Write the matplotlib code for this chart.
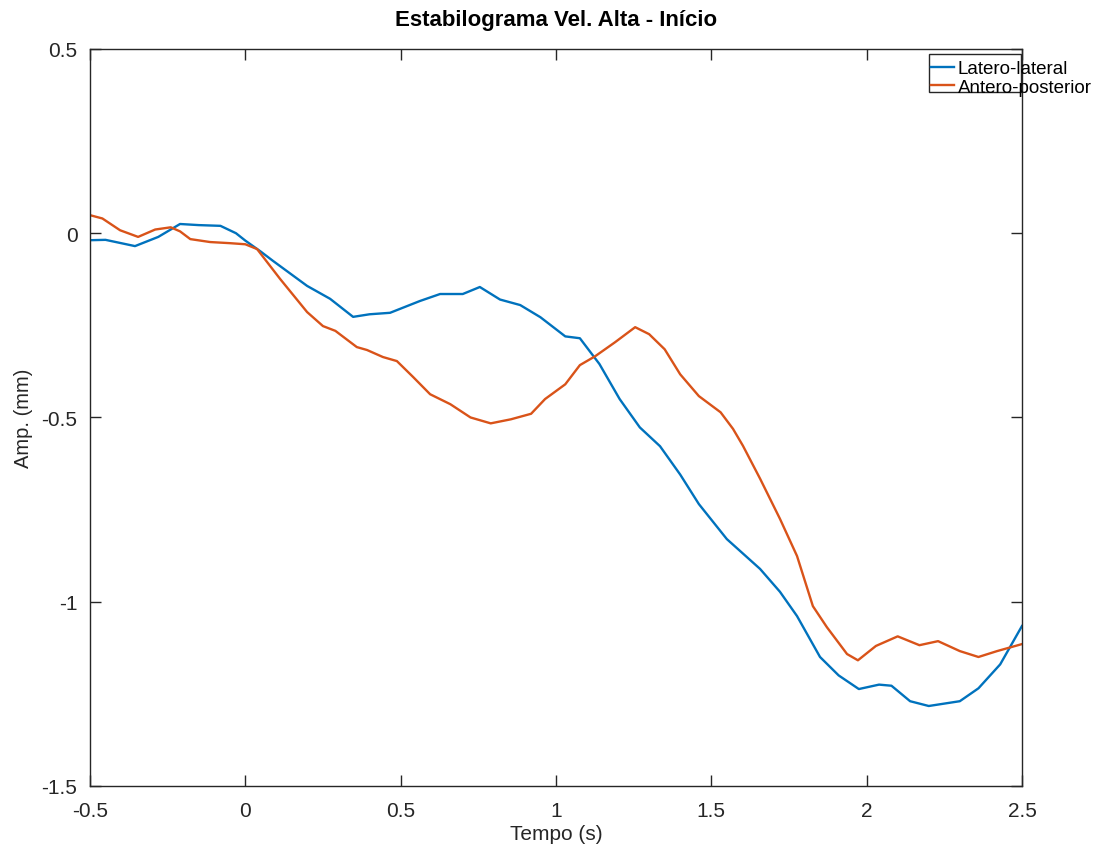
import matplotlib.pyplot as plt
from matplotlib.patches import Rectangle

plt.rcParams['font.family'] = ['Liberation Sans', 'DejaVu Sans']

# Latero-lateral (blue)
t_ll = [-0.5, -0.45, -0.355, -0.28, -0.21, -0.15, -0.08, -0.03, 0.0, 0.05, 0.089,
        0.199, 0.273, 0.347, 0.40, 0.466, 0.562, 0.627, 0.70, 0.755, 0.82, 0.885,
        0.95, 1.03, 1.077, 1.14, 1.205, 1.27, 1.335, 1.40, 1.46, 1.55, 1.657,
        1.721, 1.776, 1.85, 1.91, 1.975, 2.04, 2.08, 2.14, 2.2, 2.3, 2.36, 2.43,
        2.5]
amp_ll = [-0.019, -0.018, -0.035, -0.01, 0.025, 0.022, 0.02, 0.0, -0.02, -0.05,
          -0.075, -0.143, -0.178, -0.227, -0.22, -0.216, -0.184, -0.165, -0.165,
          -0.146, -0.18, -0.195, -0.228, -0.28, -0.285, -0.355, -0.45, -0.527,
          -0.578, -0.655, -0.735, -0.830, -0.911, -0.973, -1.039, -1.150, -1.2,
          -1.237, -1.225, -1.228, -1.27, -1.283, -1.27, -1.235, -1.17, -1.066]

# Antero-posterior (orange)
t_ap = [-0.5, -0.46, -0.403, -0.345, -0.29, -0.24, -0.21, -0.177, -0.113, -0.05,
        0.0, 0.038, 0.112, 0.199, 0.25, 0.29, 0.359, 0.392, 0.443, 0.488, 0.540,
        0.595, 0.66, 0.725, 0.79, 0.855, 0.92, 0.965, 1.03, 1.077, 1.126, 1.19,
        1.255, 1.30, 1.35, 1.40, 1.46, 1.53, 1.570, 1.602, 1.657, 1.721, 1.776,
        1.827, 1.872, 1.937, 1.972, 2.03, 2.1, 2.17, 2.23, 2.3, 2.36, 2.42, 2.5]
amp_ap = [0.049, 0.04, 0.008, -0.01, 0.01, 0.016, 0.005, -0.016, -0.024, -0.027,
          -0.03, -0.043, -0.124, -0.214, -0.252, -0.265, -0.309, -0.317, -0.336,
          -0.347, -0.390, -0.437, -0.464, -0.5, -0.516, -0.505, -0.49, -0.45,
          -0.41, -0.358, -0.334, -0.296, -0.255, -0.274, -0.315, -0.383, -0.442,
          -0.486, -0.531, -0.577, -0.666, -0.775, -0.876, -1.012, -1.069, -1.142,
          -1.159, -1.12, -1.094, -1.118, -1.107, -1.134, -1.15, -1.134, -1.115]

xticks = [-0.5, 0, 0.5, 1, 1.5, 2, 2.5]
xticklabels = ['-0.5', '0', '0.5', '1', '1.5', '2', '2.5']
yticks = [-1.5, -1, -0.5, 0, 0.5]
yticklabels = ['-1.5', '-1', '-0.5', '0', '0.5']

fig = plt.figure(figsize=(11.01, 8.54), dpi=100)
ax = fig.add_axes([0.0817, 0.0785, 0.8465, 0.863])

ax.plot(t_ll, amp_ll, color='#0072BD', lw=1.7, label='Latero-lateral')
ax.plot(t_ap, amp_ap, color='#D95319', lw=1.7, label='Antero-posterior')

ax.set_xlim(-0.5, 2.5)
ax.set_ylim(-1.5, 0.5)
ax.set_xticks(xticks)
ax.set_xticklabels(xticklabels)
ax.set_yticks(yticks)
ax.set_yticklabels(yticklabels)
ax.tick_params(direction='in', length=8, width=1, colors='#262626',
               labelsize=15, top=True, right=True)
ax.tick_params(axis='x', pad=10.5)
ax.tick_params(axis='y', pad=9)
for s in ax.spines.values():
    s.set_linewidth(1)
    s.set_color('#262626')

ax.set_xlabel('Tempo (s)', fontsize=15, color='#262626', labelpad=3)
ax.set_ylabel('Amp. (mm)', fontsize=14.5, color='#262626', labelpad=6)
ax.set_title('Estabilograma Vel. Alta - Início', fontsize=16,
             fontweight='bold', pad=17)

# Octave-style legend: box narrower than its text
leg = ax.legend(loc='upper left', bbox_to_anchor=(0.902, 0.985), frameon=False,
                fontsize=13.5, handlelength=1.25, handletextpad=0.2,
                labelspacing=0.08, borderpad=0, borderaxespad=0)
ax.add_patch(Rectangle((0.9, 0.942), 0.099, 0.051, transform=ax.transAxes,
                       fill=False, edgecolor='#262626', lw=1, clip_on=False))

fig.savefig('out.png', dpi=100)
